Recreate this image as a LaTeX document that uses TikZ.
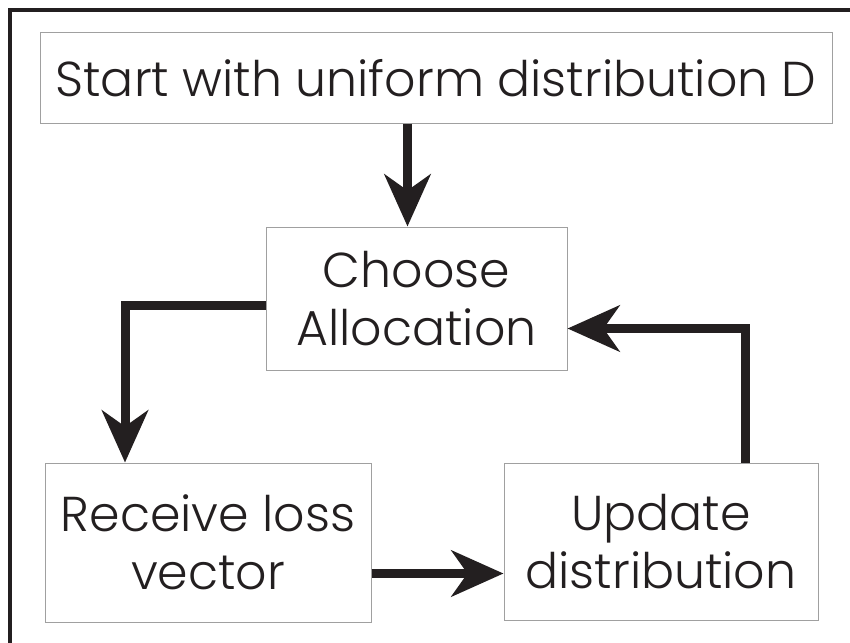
\documentclass[tikz,border=0pt]{standalone}
\usepackage{fontspec}
\setmainfont{Poppins}[UprightFont={Poppins Light}]
\usepackage{xcolor}
\usepackage{tikz}
\usetikzlibrary{arrows.meta}
\definecolor{ink}{HTML}{231F20}
\definecolor{boxline}{HTML}{A0A0A0}
\tikzset{
  flownode/.style = {rectangle, draw=boxline, line width=1pt, align=center,
    inner sep=0pt, text=ink, font=\fontsize{49}{58}\selectfont},% boite grise
  flowarrow/.style = {draw=ink, line width=9pt,
    -{Stealth[length=52pt, width=46pt, inset=16pt]}},% fleche epaisse
  frame_l/.style = {draw=ink, line width=4pt}% cadre
}
\begin{document}
\begin{tikzpicture}[x=1pt,y=-1pt]
\useasboundingbox (0,0) rectangle (850,642);
\draw [frame_l] (10,660) |- (870,10);
\node [flownode, minimum width=792pt, minimum height=90pt] (start) at (436,78)
  {Start with uniform distribution D};
\node [flownode, minimum width=301pt, minimum height=143pt] (choose) at (416.5,298.5)
  {Choose\\Allocation};
\node [flownode, minimum width=326pt, minimum height=159pt] (receive) at (208,542.5)
  {Receive loss\\vector};
\node [flownode, minimum width=314pt, minimum height=157pt] (update) at (661,541.5)
  {Update\\distribution};
\draw [flowarrow] ([xshift=-9pt]choose.north |- start.south) -- ([xshift=-9pt]choose.north);
\draw [flowarrow] ([yshift=-7pt]choose.west) -| ([xshift=-83pt]receive.north);
\draw [flowarrow] ([yshift=-31pt]receive.east) -- ([yshift=-31pt]receive.east -| update.west);
\draw [flowarrow] ([xshift=84pt]update.north) |- ([yshift=-30pt]choose.east);
\end{tikzpicture}
\end{document}
